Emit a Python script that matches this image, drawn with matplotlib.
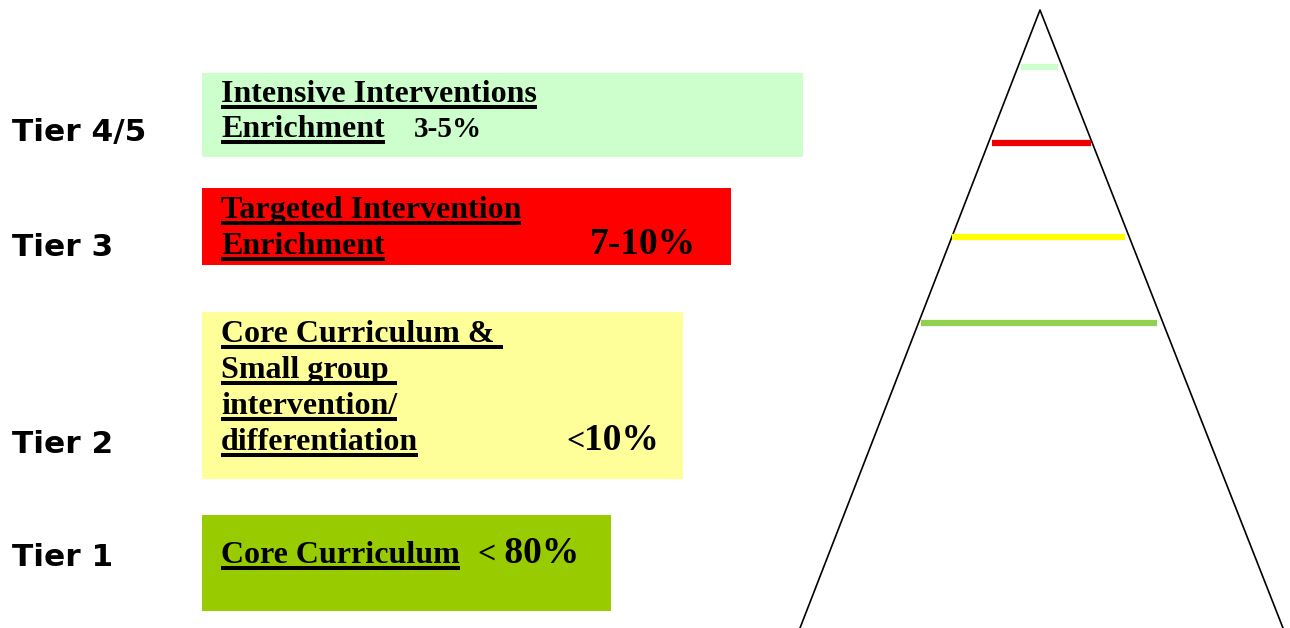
import matplotlib.pyplot as plt
from matplotlib.patches import Rectangle

# tiers, top to bottom
tier_labels = ['Tier 4/5', 'Tier 3', 'Tier 2', 'Tier 1']
tier_label_base = [141, 256, 453, 566]
box_colors = ['#CCFFCC', '#FF0000', '#FFFF99', '#99CC00']
box_right = [803, 731, 683, 611]
box_top = [73, 188, 312, 515]
box_bottom = [157, 265, 479, 611]

# underlined lines of text in each box, with baselines
box_lines = [
    ['Intensive Interventions', 'Enrichment'],
    ['Targeted Intervention', 'Enrichment'],
    ['Core Curriculum & ', 'Small group ', 'intervention/', 'differentiation'],
    ['Core Curriculum'],
]
line_baselines = [
    [102, 137],
    [218, 254],
    [342, 378, 414, 450],
    [563],
]
# percentages (prefix sign, number), position and size
pct_sign = ['', '', '<', '<']
pct_text = ['3-5%', '7-10%', '10%', ' 80%']
pct_x = [414, 590, 566, 477]
pct_size = [21, 27, 27, 27]

# pyramid
apex = (1040, 10)
base_left = (800, 628)
base_right = (1283, 628)
rung_y = [67, 143, 237, 323]
rung_left = [1021, 992, 952, 921]
rung_right = [1058, 1091, 1125, 1157]
rung_colors = ['#CCFFCC', '#EE0000', '#FFFF00', '#92D050']

fig = plt.figure(figsize=(12.9, 6.28), dpi=100)
ax = fig.add_axes([0, 0, 1, 1])
ax.set_xlim(0, 1290)
ax.set_ylim(628, 0)
ax.axis('off')

serif = 'Liberation Serif'
text_x = 221

for i in range(4):
    ax.add_patch(Rectangle((202, box_top[i]), box_right[i] - 202,
                           box_bottom[i] - box_top[i], color=box_colors[i], lw=0))
    ax.text(12, tier_label_base[i], tier_labels[i], fontsize=22.5, fontweight='bold',
            family='DejaVu Sans', va='baseline', ha='left')

fig.canvas.draw()
renderer = fig.canvas.get_renderer()
inv = ax.transData.inverted()

for i in range(4):
    for txt, yb in zip(box_lines[i], line_baselines[i]):
        t = ax.text(text_x, yb, txt, fontsize=23, fontweight='bold', family=serif,
                    va='baseline', ha='left')
        bb = t.get_window_extent(renderer)
        x0, _ = inv.transform((bb.x0, 0))
        x1, _ = inv.transform((bb.x1, 0))
        ax.plot([x0, x1], [yb + 5, yb + 5], color='black', lw=2.9,
                solid_capstyle='butt')
    yb = line_baselines[i][-1]
    x = pct_x[i]
    if pct_sign[i]:
        s = ax.text(x, yb, pct_sign[i], fontsize=23, fontweight='bold', family=serif,
                    va='baseline', ha='left')
        bb = s.get_window_extent(renderer)
        x, _ = inv.transform((bb.x1, 0))
    ax.text(x, yb, pct_text[i], fontsize=pct_size[i], fontweight='bold', family=serif,
            va='baseline', ha='left')

ax.plot([base_left[0], apex[0], base_right[0]], [base_left[1], apex[1], base_right[1]],
        color='black', lw=1.2)
for y, x0, x1, c in zip(rung_y, rung_left, rung_right, rung_colors):
    ax.plot([x0, x1], [y, y], color=c, lw=4.5, solid_capstyle='butt')

fig.savefig('out.png', dpi=100)
